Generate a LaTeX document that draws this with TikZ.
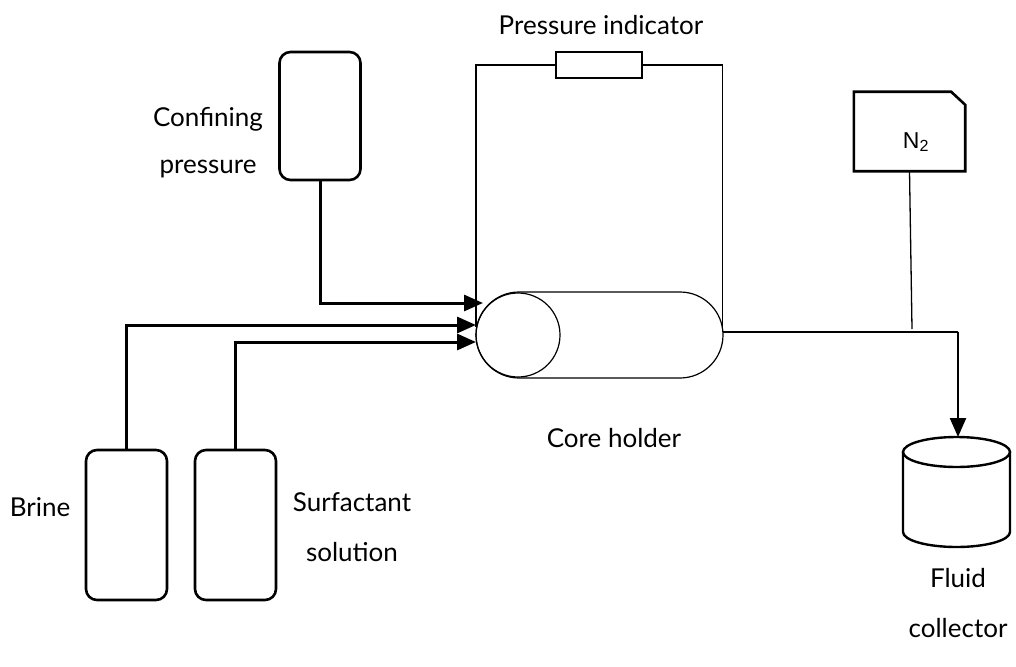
\documentclass[tikz,border=0pt]{standalone}
\usepackage{fontspec}
\setmainfont{Lato}
\newfontfamily\arialfont{Liberation Sans}
\usetikzlibrary{arrows.meta,shapes.misc}

\begin{document}
\begin{tikzpicture}[x=1pt,y=-1pt,
  tank/.style={draw,line width=2.6pt,rounded corners=11pt,minimum width=81pt,inner sep=0pt},
  thin/.style={line width=1.3pt},
  tip/.style={-{Triangle[length=19pt,width=16pt]}},
  feed/.style={line width=3pt,tip},
  lbl/.style={font=\fontsize{26}{50}\selectfont,align=center,inner sep=0pt}]
\useasboundingbox (0,0) rectangle (1016,666);

% vessels
\node[tank,minimum height=128pt] (conf) at (320,116) {};
\node[tank,minimum height=150pt] (brine) at (126.5,525) {};
\node[tank,minimum height=150pt] (surf) at (235.5,525) {};

% core holder
\node[draw,line width=1.2pt,rounded rectangle,minimum width=247pt,minimum height=86pt,inner sep=0pt] (core) at (599.5,335) {};
\node[draw,line width=1.2pt,circle,minimum size=84pt,inner sep=0pt] (coreend) at (518,335) {};

% pressure indicator
\node[draw,thin,minimum width=86pt,minimum height=26pt,inner sep=0pt] (pind) at (599,65) {};
\coordinate (pl) at (476,327);
\coordinate (pr) at (722.5,332);
\draw[thin] (pl) |- (pind.west);
\draw[thin] (pind.east) -| (pr);

% nitrogen supply: box with one cut corner
\node[minimum width=111pt,minimum height=79pt,inner sep=0pt] (ntwo) at (909.5,131.5) {};
\draw[line width=2.6pt,line join=miter] (ntwo.south west) -- (ntwo.north west) -- ([xshift=-14pt]ntwo.north east)
  -- ([yshift=-13pt]ntwo.north east) -- (ntwo.south east) -- cycle;
\node[font=\arialfont\fontsize{23}{26}\selectfont,inner sep=0pt] (ntwotext) at (916,142) {N\textsubscript{2}};

% fluid collector
\coordinate (colltop) at (958,437);
\draw[line width=2.4pt,fill=white] (903,452) -- (903,532) arc[start angle=180,end angle=360,x radius=53.5pt,y radius=15pt] -- (1010,452);
\draw[line width=2.4pt] (956.5,452) ellipse[x radius=53.5pt,y radius=15pt];

% outlet line
\coordinate (tee) at (912,332);
\coordinate (drop) at (958,332);
\draw[line width=1.8pt] (pr) -- (drop);
\draw[thin] (ntwo.south) -- ([yshift=3pt]tee);
\draw[line width=2.4pt,tip] (drop) -- (colltop);

% feed lines into the core holder
\coordinate (t1) at (483,303);
\coordinate (t2) at (476,325);
\coordinate (t3) at (476,342);
\draw[feed] (conf.south) |- (t1);
\draw[feed] (brine.north) |- (t2);
\draw[feed] (surf.north) |- (t3);

% labels
\node[lbl] (lpi) at (601,25) {Pressure indicator};
\node[lbl,font=\fontsize{26}{47}\selectfont] (lconf) at (208,143) {Confining\\pressure};
\node[lbl] (lcore) at (614,438) {Core holder};
\node[lbl] (lbrine) at (40,507) {Brine};
\node[lbl] (lsurf) at (352,527) {Surfactant\\solution};
\node[lbl] (lfluid) at (958,603) {Fluid\\collector};
\end{tikzpicture}
\end{document}
